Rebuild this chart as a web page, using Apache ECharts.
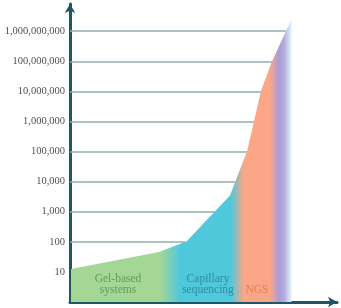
<!DOCTYPE html>
<html>
<head>
<meta charset="utf-8">
<script src="https://cdn.jsdelivr.net/npm/echarts@6/dist/echarts.min.js"></script>
<style>
	html, body { margin: 0; padding: 0; background: #fff; }
	#chart { width: 341px; height: 308px; }
</style>
</head>
<body>
<div id="chart"></div>
<script>
// throughput curve (x = position along the time axis, y = kilobases per day)
var curveX = [1, 90, 118, 162, 167, 179, 186, 193, 204, 218, 224]
var curveY = [12.4, 46, 105, 3500, 10000, 100000, 980000, 1e7, 9.5e7, 9.4e8, 2.5e9]

// decades that get a gridline
var gridValues = [10, 100, 1000, 10000, 100000, 1e6, 1e7, 1e8, 1e9]

var axisColor = '#1c5767'
var gridColor = '#93adb2'
var serif = 'Liberation Serif'

// where the curve first reaches value v (interpolated in log space)
curveCross = (v) => {
	const lv = Math.log10(v)
	for (let i = 0; i < curveX.length - 1; i++) {
		const a = Math.log10(curveY[i])
		const b = Math.log10(curveY[i + 1])
		if (lv >= a && lv <= b) {
			return curveX[i] + ((lv - a) / (b - a)) * (curveX[i + 1] - curveX[i])
		}
	}
	return null
}

chartMain = () => {
	var chart = echarts.init(document.getElementById('chart'))

	// gridlines stop where they meet the filled curve
	var gridLines = []
	gridValues.forEach((v) => {
		const xEnd = curveCross(v)
		if (xEnd !== null) gridLines.push([{ coord: [0, v] }, { coord: [xEnd, v] }])
	})

	var option = {
		animation: false,
		grid: { left: 70, right: 4, top: 4, bottom: 6, outerBoundsMode: 'none' },
		xAxis: {
			type: 'value',
			min: 0,
			max: 270,
			axisLine: {
				show: true,
				symbol: ['none', 'arrow'],
				symbolSize: [8, 9],
				lineStyle: { color: axisColor, width: 3 },
			},
			axisTick: { show: false },
			axisLabel: { show: false },
			splitLine: { show: false },
		},
		yAxis: {
			type: 'log',
			logBase: 10,
			min: 1,
			max: 8e9,
			interval: 1,
			name: 'Kilobases per day',
			nameLocation: 'middle',
			nameRotate: 90,
			nameGap: 64,
			nameTextStyle: { fontFamily: serif, fontSize: 11, color: '#555' },
			axisLine: {
				show: true,
				symbol: ['none', 'arrow'],
				symbolSize: [8, 9],
				lineStyle: { color: axisColor, width: 3 },
			},
			axisTick: { show: false },
			axisLabel: {
				fontFamily: serif,
				fontSize: 10.5,
				color: '#505050',
				margin: 5,
				formatter: (v) => {
					if (v < 10 || v > 1.5e9) return ''
					return Math.round(v).toLocaleString('en-US')
				},
			},
			splitLine: { show: false },
		},
		series: [
			{
				type: 'line',
				data: curveX.map((x, i) => [x, curveY[i]]),
				symbol: 'none',
				lineStyle: { width: 0 },
				areaStyle: {
					opacity: 1,
					color: {
						type: 'linear',
						x: 70, y: 0, x2: 300, y2: 0,
						global: true,
						colorStops: [
							{ offset: 0, color: '#a4d696' },
							{ offset: (160 - 70) / 230, color: '#a4d696' },
							{ offset: (180 - 70) / 230, color: '#50c8dc' },
							{ offset: (231 - 70) / 230, color: '#50c8dc' },
							{ offset: (244 - 70) / 230, color: '#fba686' },
							{ offset: (270 - 70) / 230, color: '#fba686' },
							{ offset: (279 - 70) / 230, color: '#aa9cd8' },
							{ offset: (284 - 70) / 230, color: '#b4abdd' },
							{ offset: (290 - 70) / 230, color: '#d6e8f5' },
							{ offset: (296 - 70) / 230, color: '#ffffff' },
							{ offset: 1, color: '#ffffff' },
						],
					},
				},
				markLine: {
					silent: true,
					symbol: ['none', 'none'],
					label: { show: false },
					lineStyle: { color: gridColor, width: 1.5, type: 'solid' },
					data: gridLines,
				},
			},
		],
		graphic: [
			{
				type: 'text', x: 118, y: 273, z: 100,
				style: { text: 'Gel-based\nsystems', fontFamily: serif, fontSize: 11.5, lineHeight: 11.5, fill: '#5f9c58', textAlign: 'center', textVerticalAlign: 'top' },
			},
			{
				type: 'text', x: 208, y: 273, z: 100,
				style: { text: 'Capillary\nsequencing', fontFamily: serif, fontSize: 11.5, lineHeight: 11.5, fill: '#2c8d9d', textAlign: 'center', textVerticalAlign: 'top' },
			},
			{
				type: 'text', x: 257, y: 284, z: 100,
				style: { text: 'NGS', fontFamily: serif, fontSize: 11.5, lineHeight: 11.5, fill: '#e07d55', textAlign: 'center', textVerticalAlign: 'top' },
			},
		],
	}

	chart.setOption(option)
}

chartMain()
</script>
</body>
</html>
